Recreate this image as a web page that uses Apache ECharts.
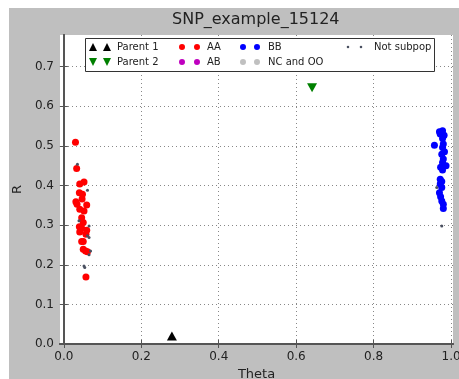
<!DOCTYPE html>
<html><head><meta charset="utf-8">
<script src="https://cdn.jsdelivr.net/npm/echarts@6/dist/echarts.min.js"></script>
<style>html,body{margin:0;padding:0;background:#fff}#c{width:459px;height:379px}</style>
</head><body><div id="c"></div>
<script>
const titleText = 'SNP_example_15124';
const xTicks = [0, 0.2, 0.4, 0.6, 0.8, 1.0];
const yTicks = [0, 0.1, 0.2, 0.3, 0.4, 0.5, 0.6, 0.7];
const parent1 = [[0.279, 0.020]];
const parent2 = [[0.641, 0.647]];
const aa = [[0.030,0.509],[0.033,0.443],[0.052,0.409],[0.041,0.404],[0.040,0.382],[0.048,0.378],[0.047,0.366],[0.031,0.359],[0.034,0.353],[0.059,0.351],[0.041,0.340],[0.052,0.336],[0.046,0.319],[0.050,0.307],[0.040,0.296],[0.046,0.292],[0.059,0.287],[0.041,0.283],[0.057,0.277],[0.050,0.259],[0.046,0.259],[0.050,0.239],[0.056,0.235],[0.061,0.233],[0.057,0.169]];
const ab = [];
const bb = [[0.970,0.536],[0.978,0.538],[0.972,0.530],[0.982,0.527],[0.978,0.519],[0.957,0.502],[0.980,0.505],[0.978,0.496],[0.983,0.485],[0.976,0.479],[0.980,0.467],[0.978,0.458],[0.987,0.450],[0.973,0.446],[0.978,0.439],[0.972,0.416],[0.976,0.410],[0.972,0.404],[0.976,0.395],[0.970,0.382],[0.973,0.372],[0.976,0.361],[0.980,0.353],[0.980,0.342]];
const ncoo = [];
const notSubpop = [[0.035,0.454],[0.061,0.388],[0.039,0.311],[0.065,0.298],[0.061,0.273],[0.065,0.269],[0.069,0.235],[0.065,0.225],[0.052,0.197],[0.054,0.193],[0.963,0.395],[0.976,0.298]];

const FONT = 'DejaVu Sans';
function pad(W){return `M0,0L0,0M${W},10L${W},10`;}
function triUp(cx){return `M${cx-4},9L${cx},1L${cx+4},9Z`;}
function triDown(cx){return `M${cx-4},1L${cx},9L${cx+4},1Z`;}
function circ(cx,r){return `M${cx-r},5a${r},${r} 0 1,0 ${2*r},0a${r},${r} 0 1,0 ${-2*r},0Z`;}
const icons = {
  'Parent 1': 'path://' + pad(25) + triUp(6) + triUp(20),
  'Parent 2': 'path://' + pad(25) + triDown(6) + triDown(20),
  'AA': 'path://' + pad(24) + circ(4,3) + circ(19,3),
  'AB': 'path://' + pad(24) + circ(4,3) + circ(19,3),
  'BB': 'path://' + pad(24) + circ(4,3) + circ(18,3),
  'NC and OO': 'path://' + pad(24) + circ(4,3) + circ(18,3),
  'Not subpop': 'path://' + pad(24) + circ(3,1.3) + circ(16,1.3)
};
function legendCol(left, names, W){
  return {
    orient: 'vertical', left: left, top: 42, padding: 0, itemGap: 5,
    itemWidth: W, itemHeight: 10, selectedMode: false,
    textStyle: {fontFamily: FONT, fontSize: 10, color: '#222'},
    data: names.map(n => ({name: n, icon: icons[n], itemStyle: {opacity: 1}}))
  };
}
const gridLine = {show: true, lineStyle: {color: '#888', type: [1, 3], width: 1}};
const spine = {show: true, lineStyle: {color: '#555', width: 2}};
const tick = {show: true, inside: true, length: 4, lineStyle: {color: '#555', width: 1}};
const lbl = {fontFamily: FONT, fontSize: 12, color: '#222'};

const chart = echarts.init(document.getElementById('c'), null, {renderer: 'canvas'});
chart.setOption({
  animation: false,
  backgroundColor: '#fff',
  graphic: [
    {type: 'rect', left: 9, top: 8, shape: {width: 450, height: 371}, style: {fill: '#bfbfbf'}, z: -10, silent: true},
    {type: 'rect', shape: {x: 60, y: 35, width: 393, height: 309}, style: {fill: '#fff'}, z: -9, silent: true},
    {type: 'rect', shape: {x: 85.5, y: 38.5, width: 349, height: 33}, style: {fill: '#fff', stroke: '#333', lineWidth: 1}, z: 3, silent: true}
  ],
  title: {text: titleText, left: 172, top: 12, padding: 0,
    textStyle: {fontFamily: FONT, fontSize: 16, fontWeight: 'normal', color: '#222'}},
  grid: {left: 60, top: 35, right: 6, bottom: 35, containLabel: false, outerBoundsMode: 'none'},
  legend: [
    legendCol(87, ['Parent 1', 'Parent 2'], 25),
    legendCol(178, ['AA', 'AB'], 24),
    legendCol(239, ['BB', 'NC and OO'], 24),
    legendCol(345, ['Not subpop'], 24)
  ],
  xAxis: [
    {type: 'value', min: -0.01, max: 1.005, position: 'bottom',
     name: 'Theta', nameLocation: 'middle', nameGap: 22,
     nameTextStyle: {fontFamily: FONT, fontSize: 13, color: '#222'},
     axisLine: spine, axisTick: Object.assign({customValues: xTicks}, tick),
     axisLabel: Object.assign({customValues: xTicks, margin: 7, formatter: v => v.toFixed(1)}, lbl),
     splitLine: gridLine},
    {type: 'value', min: -0.01, max: 1.005, position: 'top',
     axisLine: spine, axisTick: Object.assign({customValues: xTicks}, tick),
     axisLabel: {show: false, customValues: xTicks}, splitLine: {show: false}}
  ],
  yAxis: [
    {type: 'value', min: 0, max: 0.78, position: 'left',
     name: 'R', nameLocation: 'middle', nameGap: 34,
     nameTextStyle: {fontFamily: FONT, fontSize: 13, color: '#222'},
     axisLine: spine, axisTick: Object.assign({customValues: yTicks}, tick),
     axisLabel: Object.assign({customValues: yTicks, margin: 6, formatter: v => v.toFixed(1)}, lbl),
     splitLine: gridLine},
    {type: 'value', min: 0, max: 0.78, position: 'right',
     axisLine: spine, axisTick: Object.assign({customValues: yTicks}, tick),
     axisLabel: {show: false, customValues: yTicks}, splitLine: {show: false}}
  ],
  series: [
    {name: 'Parent 1', type: 'scatter', data: parent1, symbol: 'triangle', symbolSize: [10, 9], itemStyle: {color: '#000', opacity: 1}},
    {name: 'Parent 2', type: 'scatter', data: parent2, symbol: 'path://M0,0L10,0L5,9Z', symbolSize: [10, 9], itemStyle: {color: '#008000', opacity: 1}},
    {name: 'AA', type: 'scatter', data: aa, symbolSize: 7, itemStyle: {color: '#ff0000', opacity: 1}},
    {name: 'AB', type: 'scatter', data: ab, symbolSize: 7, itemStyle: {color: '#bf00bf', opacity: 1}},
    {name: 'BB', type: 'scatter', data: bb, symbolSize: 7, itemStyle: {color: '#0000ff', opacity: 1}},
    {name: 'NC and OO', type: 'scatter', data: ncoo, symbolSize: 7, itemStyle: {color: '#c0c0c0', opacity: 1}},
    {name: 'Not subpop', type: 'scatter', data: notSubpop, symbolSize: 3, itemStyle: {color: '#4a5060', opacity: 1}}
  ]
});
</script></body></html>
